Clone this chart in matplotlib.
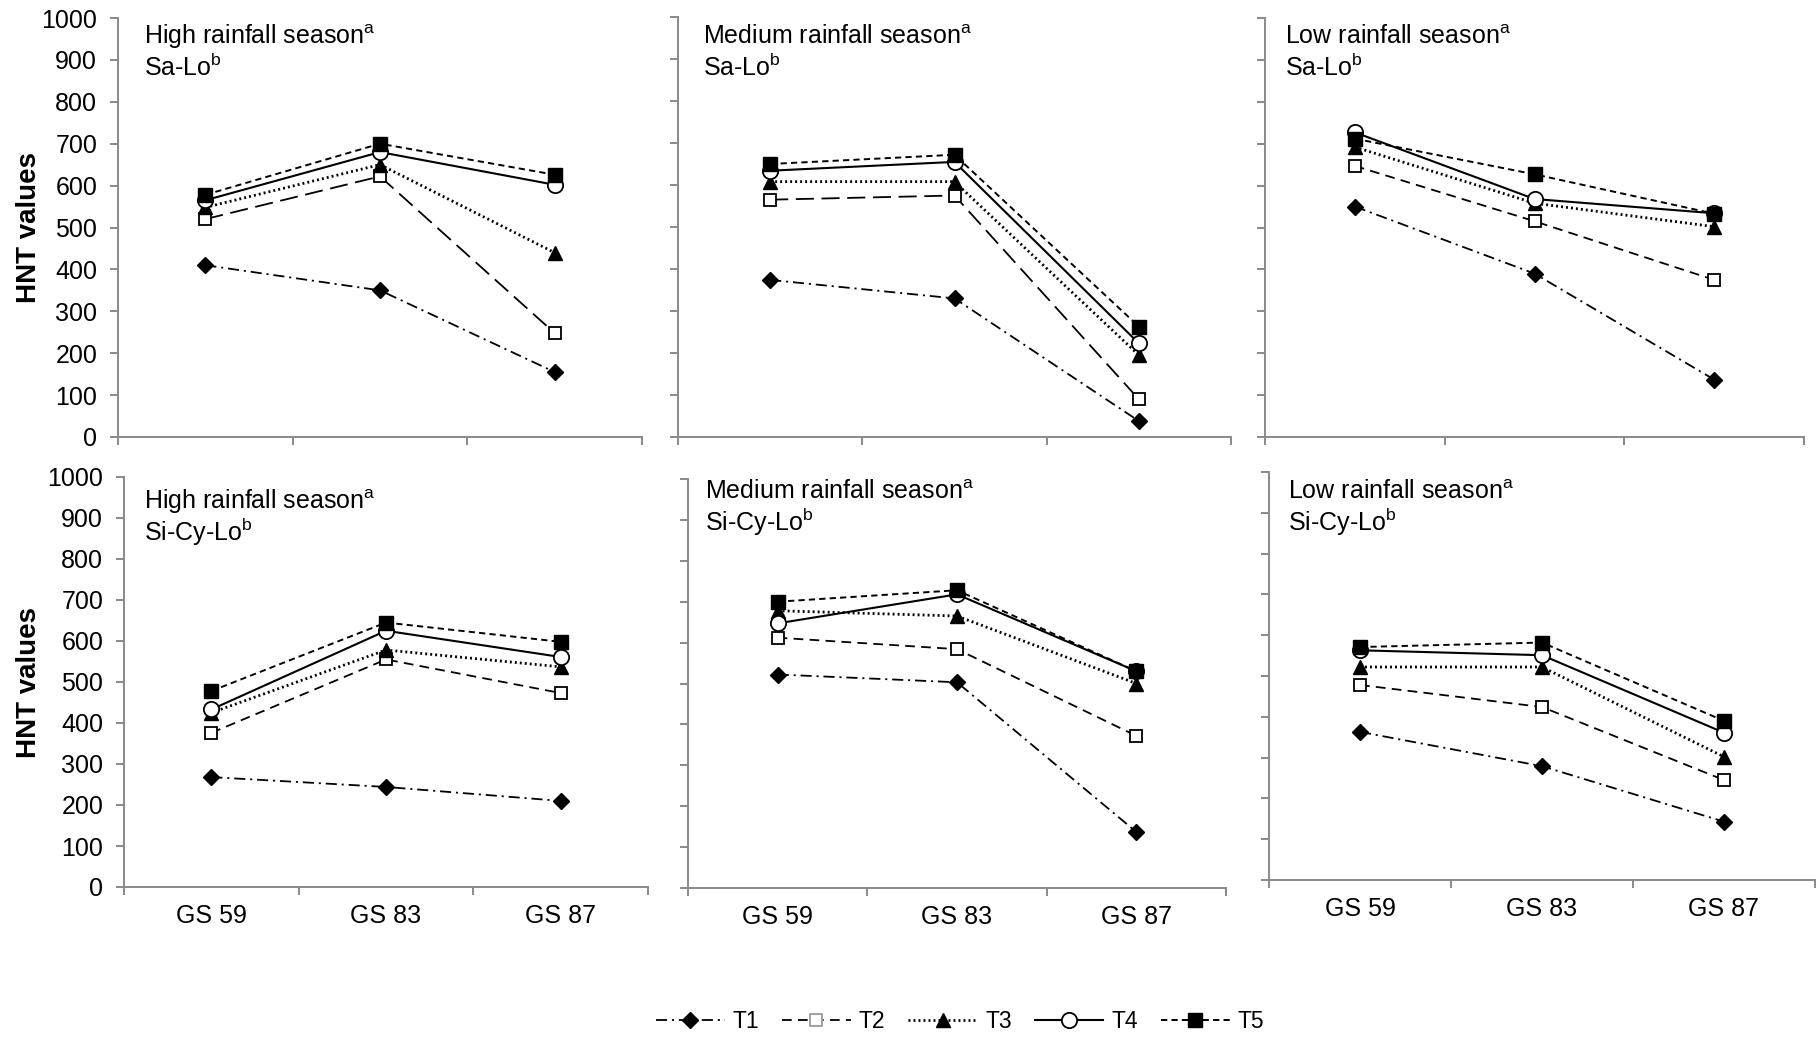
import numpy as np
import matplotlib
matplotlib.use("Agg")
import matplotlib.pyplot as plt
from matplotlib.lines import Line2D

plt.rcParams['font.family'] = ['Liberation Sans', 'DejaVu Sans']
plt.rcParams['mathtext.fontset'] = 'custom'
plt.rcParams['mathtext.rm'] = 'Liberation Sans'
plt.rcParams['lines.scale_dashes'] = False

######################################################
# data (HNT values)
stages = ["GS 59", "GS 83", "GS 87"]
treatments = ["T1", "T2", "T3", "T4", "T5"]
seasons = ["High rainfall season", "Medium rainfall season", "Low rainfall season"]
soils = ["Sa-Lo", "Si-Cy-Lo"]

# Sa-Lo soil
high_salo = [[410, 350, 155], [520, 622, 248], [548, 650, 440], [565, 680, 602], [578, 700, 626]]
medium_salo = [[374, 330, 38], [565, 575, 90], [608, 608, 195], [634, 655, 223], [650, 672, 263]]
low_salo = [[550, 390, 137], [647, 515, 375], [692, 558, 502], [727, 568, 534], [712, 627, 533]]
# Si-Cy-Lo soil
high_sicylo = [[268, 244, 210], [376, 555, 473], [425, 578, 537], [433, 625, 561], [478, 645, 598]]
medium_sicylo = [[522, 503, 137], [612, 584, 372], [678, 665, 500], [647, 718, 530], [700, 728, 530]]
low_sicylo = [[363, 279, 143], [478, 424, 245], [522, 522, 302], [563, 551, 361], [571, 582, 390]]

panel_data = [[high_salo, medium_salo, low_salo],
              [high_sicylo, medium_sicylo, low_sicylo]]

######################################################
# styles
W, H = 1816, 1037
gray = '#898989'
t2_long = (0, (13, 5.5))
t2_med = (0, (7, 4.5))
styles = [
    dict(ls=(0, (8, 3.5, 1.5, 3.5)), marker='D', ms=8, mfc='black', mec='black', lw=1.3),
    dict(ls=t2_med, marker='s', ms=9, mfc='white', mec='black', mew=1.3, lw=1.3),
    dict(ls=(0, (1.4, 2.2)), marker='^', ms=10, mfc='black', mec='black', lw=2.0),
    dict(ls='-', marker='o', ms=11, mfc='white', mec='black', mew=1.3, lw=1.5),
    dict(ls=(0, (4.5, 3)), marker='s', ms=9.5, mfc='black', mec='black', lw=1.4),
]

# axes boxes in pixels: left, top, right, bottom
boxes = [[(118, 18, 642, 437), (678, 17, 1231, 437), (1265, 18, 1804, 437)],
         [(124, 477, 648, 887), (688, 479, 1226, 888), (1269, 472, 1815, 880)]]
# title anchor in pixels (left, first line center)
title_pos = [[(144, 37), (703, 37), (1285, 37)],
             [(144, 502), (705, 492), (1288, 492)]]

fig = plt.figure(figsize=(W / 100, H / 100), dpi=100)

for r in range(2):
    for c in range(3):
        l, t, rr, b = boxes[r][c]
        ax = fig.add_axes([l / W, 1 - b / H, (rr - l) / W, (b - t) / H])
        x = np.arange(len(stages)) + 0.5
        for k, vals in enumerate(panel_data[r][c]):
            st = dict(styles[k])
            if k == 1 and r == 0 and c < 2:
                st['ls'] = t2_long
            ax.plot(x, vals, color='black', zorder=3 + k, clip_on=False, **st)
        ax.set_xlim(0, 3)
        ax.set_ylim(0, 1000)
        for s in ['top', 'right']:
            ax.spines[s].set_visible(False)
        for s in ['left', 'bottom']:
            ax.spines[s].set_color(gray)
            ax.spines[s].set_linewidth(1.4)
        ax.set_yticks(np.arange(0, 1001, 100))
        ax.set_xticks([0, 1, 2, 3])
        ax.set_xticklabels([])
        ax.set_xticks(x, minor=True)
        ax.tick_params(axis='both', which='major', color=gray, width=1.4, length=6, direction='out')
        ax.tick_params(axis='x', which='minor', length=0, labelsize=18, pad=12)
        ax.tick_params(axis='y', labelsize=18, pad=9)
        if r == 1:
            ax.set_xticklabels(stages, minor=True)
        if c != 0:
            ax.set_yticklabels([])
        tx, ty = title_pos[r][c]
        fig.text(tx / W, 1 - ty / H, seasons[c] + r"$^{\rm a}$", fontsize=18, va='center', ha='left')
        fig.text(tx / W, 1 - (ty + 30) / H, soils[r] + r"$^{\rm b}$", fontsize=18, va='center', ha='left')

    ycen = (boxes[r][0][1] + boxes[r][0][3]) / 2
    fig.text(29 / W, 1 - ycen / H, "HNT values", rotation=90, fontsize=20,
             fontweight='bold', ha='center', va='center')

# legend handles (T2 marker has a grey edge in the key)
handles = []
for k in range(len(treatments)):
    st = dict(styles[k])
    if k == 1:
        st['mec'] = '#9a9a9a'
    handles.append(Line2D([], [], color='black', **st))

fig.legend(handles, treatments, loc='center', bbox_to_anchor=(960 / W, 1 - 1022 / H),
           ncol=5, frameon=False, fontsize=16.5, handlelength=3.0, handletextpad=0.35,
           columnspacing=1.0, numpoints=1)

fig.savefig('out.png', dpi=100)
